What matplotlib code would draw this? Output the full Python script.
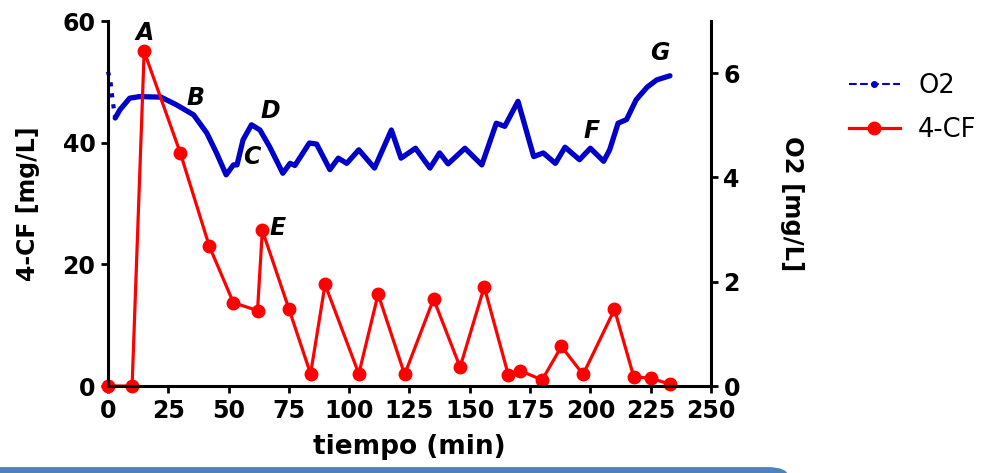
import matplotlib.pyplot as plt
from matplotlib.lines import Line2D
from matplotlib.patches import FancyBboxPatch

plt.rcParams['font.family'] = ['DejaVu Sans']

# 4-CF concentration (mg/L) sampled over time (min)
cf_time = [0, 10, 15, 30, 42, 52, 62, 64, 75, 84, 90, 104, 112, 123, 135,
           146, 156, 166, 171, 180, 188, 197, 210, 218, 225, 233]
cf_value = [0, 0, 55, 38.3, 23.0, 13.7, 12.4, 25.6, 12.7, 2.0, 16.7, 2.0, 15.1,
            1.9, 14.3, 3.1, 16.3, 1.8, 2.5, 1.0, 6.5, 1.9, 12.6, 1.5, 1.3, 0.3]

# dissolved oxygen (mg/L), probe reading
o2_time = [0, 1, 2, 3, 5, 9, 13, 22, 28.5, 35.5, 41, 45, 49, 52, 53.5, 56,
           59.5, 63, 67, 72.5, 75.5, 77.5, 83.5, 86.5, 92, 95.5, 99, 104,
           110.5, 117.5, 121.5, 127.5, 133.5, 137.5, 141, 148, 155, 161,
           164.5, 170, 176.5, 180.5, 185.5, 189.5, 195.5, 200, 205.5, 208,
           211.5, 215, 219, 223.5, 227.5, 233]
o2_value = [6.03, 5.85, 5.45, 5.14, 5.30, 5.52, 5.55, 5.54, 5.39, 5.20, 4.85,
            4.47, 4.05, 4.24, 4.24, 4.72, 5.01, 4.91, 4.59, 4.08, 4.27, 4.23,
            4.66, 4.64, 4.15, 4.37, 4.27, 4.53, 4.18, 4.91, 4.37, 4.56, 4.18,
            4.47, 4.26, 4.56, 4.24, 5.04, 4.98, 5.46, 4.40, 4.47, 4.27, 4.58,
            4.34, 4.56, 4.31, 4.53, 5.04, 5.11, 5.49, 5.73, 5.87, 5.95]

# event labels placed on the 4-CF scale
tags = ['A', 'B', 'C', 'D', 'E', 'F', 'G']
tag_x = [15.3, 36.1, 59.7, 67.2, 70.5, 200.7, 228.9]
tag_y = [58.1, 47.4, 37.7, 45.2, 26.0, 41.9, 54.8]

x_ticks = [0, 25, 50, 75, 100, 125, 150, 175, 200, 225, 250]
cf_ticks = [0, 20, 40, 60]
o2_ticks = [0, 2, 4, 6]

BLUE = '#0000c8'
RED = '#ff0000'

fig = plt.figure(figsize=(9.97, 4.73), dpi=100)
ax = fig.add_axes([0.1083, 0.1839, 0.6048, 0.7717])
ax2 = ax.twinx()

# O2 on the right axis
ax2.plot(o2_time[:4], o2_value[:4], color=BLUE, lw=3, ls=':', clip_on=False)
ax2.plot(o2_time[3:], o2_value[3:], color=BLUE, lw=3.8, solid_joinstyle='round',
         solid_capstyle='round', clip_on=False)
ax2.set_ylim(0, 7)
ax2.set_yticks(o2_ticks)

# 4-CF on the left axis, drawn above the O2 trace
ax.set_zorder(ax2.get_zorder() + 1)
ax.patch.set_visible(False)
ax.plot(cf_time, cf_value, color=RED, lw=2.3, marker='o', ms=9, clip_on=False)
ax.set_xlim(0, 250)
ax.set_ylim(0, 60)
ax.set_xticks(x_ticks)
ax.set_yticks(cf_ticks)

for t, x, y in zip(tags, tag_x, tag_y):
    ax.text(x, y, t, fontsize=17, fontweight='bold', style='italic',
            ha='center', va='center')

for a in (ax, ax2):
    a.spines['top'].set_visible(False)
    for s in a.spines.values():
        s.set_linewidth(2.2)
    a.tick_params(direction='out', length=5, width=2, labelsize=17, pad=4)
    for lab in a.get_xticklabels() + a.get_yticklabels():
        lab.set_fontweight('bold')
ax.spines['right'].set_visible(False)
ax2.spines['left'].set_visible(False)
ax2.spines['bottom'].set_visible(False)

ax.set_xlabel('tiempo (min)', fontsize=19, fontweight='bold', labelpad=8)
ax.set_ylabel('4-CF [mg/L]', fontsize=17, fontweight='bold', labelpad=16)
ax2.set_ylabel('O2 [mg/L]', fontsize=17.5, fontweight='bold', rotation=-90,
               labelpad=46)

handles = [Line2D([], [], color=BLUE, lw=1.5, ls='--', marker='o', ms=4),
           Line2D([], [], color=RED, lw=2.3, marker='o', ms=9)]
fig.legend(handles, ['O2', '4-CF'], loc='upper left',
           bbox_to_anchor=(0.828, 0.895), frameon=False,
           prop={'size': 18.5},
           handlelength=2.0, handletextpad=0.7, labelspacing=0.7)

# slide footer bar
fig.patches.append(FancyBboxPatch((-0.02, -0.03), 0.81, 0.041,
                                  boxstyle='round,pad=0,rounding_size=0.02',
                                  transform=fig.transFigure, color='#4f81bd',
                                  zorder=0))

fig.savefig('out.png', dpi=100)
